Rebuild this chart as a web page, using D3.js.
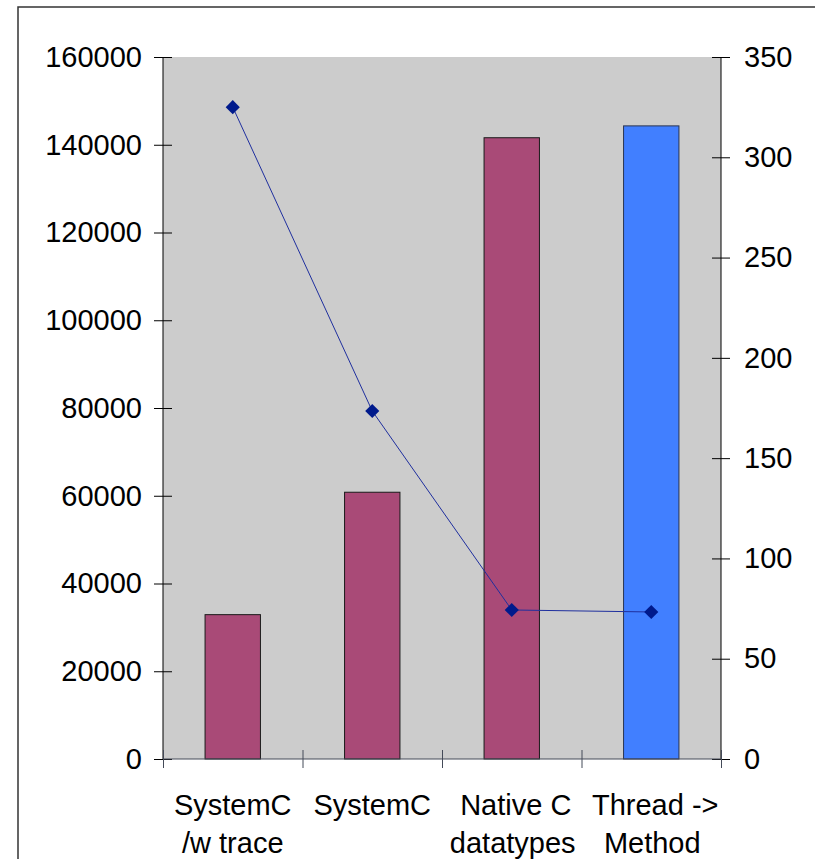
<!DOCTYPE html>
<html><head><meta charset="utf-8">
<script src="https://cdn.jsdelivr.net/npm/d3@7"></script>
<style>body{margin:0;background:#fff}svg{display:block}</style>
</head><body>
<svg id="c" width="815" height="859"></svg>
<script>
const categories = [["SystemC","/w trace"],["SystemC",""],["Native C","datatypes"],["Thread ->","Method"]];
const barValues = [32900, 60800, 141600, 144300];
const barColors = ["#a94a77","#a94a77","#a94a77","#417fff"];
const lineValues = [325, 173.5, 74.3, 73.3];
const leftTicks = [0,20000,40000,60000,80000,100000,120000,140000,160000];
const rightTicks = [0,50,100,150,200,250,300,350];

const svg = d3.select("#c");
const W = 815, H = 859;
const m = {l:163, r:721, t:57, b:759};
const font = "'Liberation Sans', Arial, sans-serif";

svg.append("rect").attr("x",18).attr("y",7).attr("width",W).attr("height",H)
  .attr("fill","#fff").attr("stroke","#333").attr("stroke-width",1.5);

const x = d3.scaleBand().domain(d3.range(categories.length)).range([m.l,m.r]).paddingInner(0).paddingOuter(0);
const yL = d3.scaleLinear().domain([0,160000]).range([m.b,m.t]);
const yR = d3.scaleLinear().domain([0,350]).range([m.b,m.t]);

svg.append("rect").attr("x",m.l).attr("y",m.t).attr("width",m.r-m.l).attr("height",m.b-m.t).attr("fill","#cccccc");

const bw = x.bandwidth()*0.397;
svg.selectAll(".bar").data(barValues).enter().append("rect")
  .attr("x",(d,i)=>x(i)+x.bandwidth()/2-bw/2)
  .attr("y",d=>yL(d))
  .attr("width",bw)
  .attr("height",d=>m.b-yL(d))
  .attr("fill",(d,i)=>barColors[i])
  .attr("stroke",(d,i)=>i===3?"#2a3550":"#1a1a1a").attr("stroke-width",1);

// left axis
const gl = svg.append("g").attr("transform",`translate(${m.l},0)`)
  .call(d3.axisLeft(yL).tickValues(leftTicks).tickSize(9).tickPadding(12).tickFormat(d3.format("d")));
gl.selectAll(".tick line").clone().attr("x2",9);
gl.select(".domain").attr("d",`M0,${m.t}V${m.b}`).attr("stroke","#000");
gl.selectAll("line").attr("stroke","#000");
gl.selectAll("text").attr("font-family",font).attr("font-size",29).attr("fill","#000");

// right axis
const gr = svg.append("g").attr("transform",`translate(${m.r},0)`)
  .call(d3.axisRight(yR).tickValues(rightTicks).tickSize(9).tickPadding(14));
gr.selectAll(".tick line").clone().attr("x2",-9);
gr.select(".domain").attr("d",`M0,${m.t}V${m.b}`).attr("stroke","#000");
gr.selectAll("line").attr("stroke","#000");
gr.selectAll("text").attr("font-family",font).attr("font-size",29).attr("fill","#000");

// bottom axis
const xe = d3.scaleLinear().domain([0,categories.length]).range([m.l,m.r]);
const gb = svg.append("g").attr("transform",`translate(0,${m.b})`)
  .call(d3.axisBottom(xe).ticks(categories.length).tickSize(9).tickFormat(""));
gb.selectAll(".tick line").clone().attr("y2",-9);
gb.select(".domain").attr("d",`M${m.l},0H${m.r}`).attr("stroke","#444a58").attr("stroke-width",1.2);
gb.selectAll("line").attr("stroke","#444a58");

// category labels
const lab = svg.append("g").attr("font-family",font).attr("font-size",29).attr("fill","#000").attr("text-anchor","middle");
categories.forEach((c,i)=>{
  const cx = x(i)+x.bandwidth()/2 + (i>=2?4:0);
  lab.append("text").attr("x",cx).attr("y",815).text(c[0]);
  if(c[1]) lab.append("text").attr("x",cx-(i>=2?3:0)).attr("y",853).text(c[1]);
});

// line
const pts = lineValues.map((v,i)=>[x(i)+x.bandwidth()/2, yR(v)]);
svg.append("path").attr("d",d3.line()(pts)).attr("fill","none").attr("stroke","#1f2f9e").attr("stroke-width",1);
svg.selectAll(".mk").data(pts).enter().append("path")
  .attr("d",d3.symbol().type(d3.symbolSquare).size(100))
  .attr("transform",d=>`translate(${d[0]},${d[1]}) rotate(45)`)
  .attr("fill","#001a8c");
</script>
</body></html>
